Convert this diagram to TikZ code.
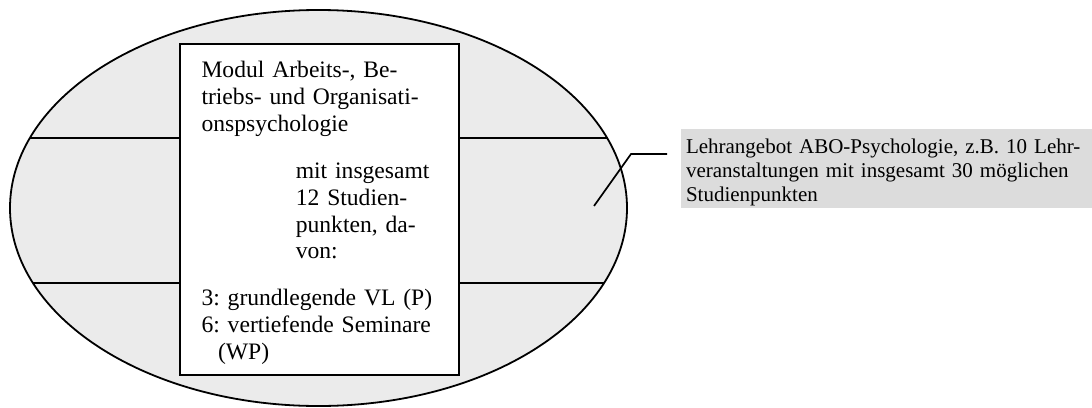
\documentclass[tikz,border=0pt]{standalone}
\usepackage{fontspec}
\setmainfont{Liberation Serif}
\usetikzlibrary{shapes.geometric}
\definecolor{ovalgray}{HTML}{EBEBEB}
\definecolor{notegray}{HTML}{DCDCDC}

\begin{document}
\begin{tikzpicture}[ x = 1pt, y = -1pt,
oval/.style={ ellipse, draw, fill = ovalgray, line width = 1.8pt, minimum width = 617pt, minimum height = 396pt, inner sep = 0pt },
modulbox/.style={ rectangle, draw, fill = white, line width = 1.8pt, text width = 236pt, inner xsep = 21.5pt, inner ysep = 10.6pt, minimum height = 331pt, align = left, font = \fontsize{23.6}{26.7}\selectfont\frenchspacing },
note/.style={ rectangle, fill = notegray, text width = 401pt, inner xsep = 5pt, inner ysep = 1.2pt, minimum height = 79pt, outer sep = 0pt, align = left, font = \fontsize{21}{24}\selectfont\frenchspacing },
band/.style={ line width = 1.7pt }
]
\useasboundingbox (0,0) rectangle (1092,407);
%the course offer and the module inside it
\node (abo) at (318.5,208) [oval] {};
\node (modul) at (319.5,43) [modulbox, anchor = north] {\rule{0pt}{23.1pt}Modul Arbeits-, Be-\\triebs- und Organisati-\\onspsychologie\\[21pt]
	\hspace*{94.3pt}mit insgesamt\\\hspace*{94.3pt}12 Studien-\\\hspace*{94.3pt}punkten, da-\\\hspace*{94.3pt}von:\\[20pt]
	3: grundlegende VL (P)\\6: vertiefende Seminare\\\hspace*{16.6pt}(WP)};
%band ends on the oval
\coordinate (ul) at (30,138);
\coordinate (ur) at (607,138);
\coordinate (ll) at (33,283);
\coordinate (lr) at (604,283);
\draw [band] (ul) -- (ul -| modul.west);
\draw [band] (ur) -- (ur -| modul.east);
\draw [band] (ll) -- (ll -| modul.west);
\draw [band] (lr) -- (lr -| modul.east);

%callout
\node (note) at (681,129) [note, anchor = north west] {\rule{0pt}{22.8pt}Lehrangebot ABO-Psychologie, z.B. 10 Lehr-\\veranstaltungen mit insgesamt 30 möglichen\\Studienpunkten};
\coordinate (tip) at (594,206);
\coordinate (knee) at (631,154);
\draw [band, shorten > = 14pt] (tip) -- (knee) -- (knee -| note.west);
\end{tikzpicture}
\end{document}
